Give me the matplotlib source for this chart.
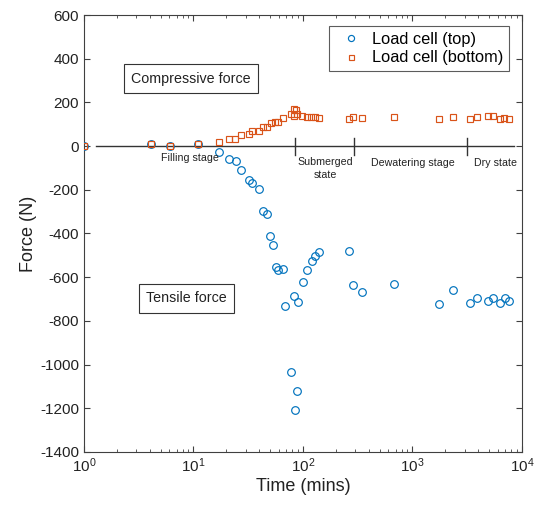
import matplotlib
matplotlib.use("Agg")
import matplotlib.pyplot as plt
import numpy as np

plt.rcParams['font.family'] = ['Liberation Sans', 'DejaVu Sans']
plt.rcParams['mathtext.fontset'] = 'custom'
plt.rcParams['mathtext.rm'] = 'Liberation Sans'
plt.rcParams['axes.unicode_minus'] = False

# load cell on top (N)
t_top = [1, 4.1, 6.1, 11.1, 17.2, 21.1, 24.3, 27.1, 32.1, 34.2, 39.9, 43.1, 47.2,
         50.3, 53.6, 56.3, 59.5, 65.6, 68.5, 78.2, 83.3, 85.1, 88.1, 90.5, 100.6,
         109.4, 120, 129.5, 141, 261, 286, 348, 680, 1760, 2360, 3370, 3910,
         4890, 5470, 6300, 6950, 7600]
f_top = [0, 8, 2, 8, -28, -60, -67, -108, -157, -169, -198, -296, -312,
         -411, -454, -553, -567, -561, -732, -1035, -688, -1206, -1121, -715, -620,
         -567, -527, -504, -486, -479, -637, -668, -633, -723, -657, -717, -694,
         -711, -694, -717, -694, -711]

# load cell at bottom (N)
t_bot = [1, 4.1, 6.1, 11.1, 17.2, 21.1, 23.8, 27.1, 32.1, 34.2, 39.9, 43.1, 47.2,
         50.7, 55.5, 59.5, 66.1, 77.2, 83.3, 83.3, 86.3, 88.7, 98.6, 108, 117.6,
         128.8, 141, 261, 288, 348, 678, 1746, 2360, 3350, 3880, 4920, 5470,
         6300, 6890, 7600]
f_bot = [0, 10, 2, 10, 19, 32, 32, 49, 57, 68, 68, 87, 87,
         106, 110, 112, 127, 147, 168, 140, 165, 147, 138, 133, 131,
         131, 129, 122, 135, 129, 135, 123, 135, 122, 135, 137, 137,
         123, 129, 123]

stage_bounds = [84.5, 292, 3150]
stage_names = ["Filling stage", "Submerged\nstate", "Dewatering stage", "Dry state"]
stage_x = [9.2, 159, 1010, 5730]
stage_y = [-54, -103, -77, -77]

blue = "#0072BD"
orange = "#D95319"
axcol = "#404040"

fig = plt.figure(figsize=(5.35, 5.07), dpi=100)
ax = fig.add_axes([0.157, 0.1085, 0.8187, 0.8619])

ax.plot([1.29, 8450], [0, 0], color="#333333", linewidth=1.0, zorder=1)
for b in stage_bounds:
    ax.plot([b, b], [-40, 35], color="#333333", linewidth=1.0, zorder=1)

ax.plot(t_top, f_top, linestyle="none", marker="o", markersize=5.5,
        markerfacecolor="none", markeredgecolor=blue, markeredgewidth=0.85,
        label="Load cell (top)", zorder=3)
ax.plot(t_bot, f_bot, linestyle="none", marker="s", markersize=4.5,
        markerfacecolor="none", markeredgecolor=orange, markeredgewidth=0.85,
        label="Load cell (bottom)", zorder=3)

for name, x, y in zip(stage_names, stage_x, stage_y):
    ax.text(x, y, name, fontsize=7.7, ha="center", va="center",
            color="#222222", linespacing=1.3)

box = dict(boxstyle="square,pad=0.5", facecolor="white", edgecolor="#333333",
           linewidth=0.8)
ax.text(9.5, 309, "Compressive force", fontsize=10.3, ha="center", va="center",
        bbox=box, color="#222222")
ax.text(8.6, -697, "Tensile force", fontsize=10.3, ha="center", va="center",
        bbox=box, color="#222222")

ax.set_xscale("log")
ax.set_xlim(1, 1e4)
ax.set_ylim(-1400, 600)
ax.set_yticks(np.arange(-1400, 601, 200))

ax.set_xlabel("Time (mins)", fontsize=13, color="#222222", labelpad=2)
ax.set_ylabel("Force (N)", fontsize=13, color="#222222", labelpad=2)

ax.tick_params(which="both", direction="in", top=True, right=True,
               colors=axcol, labelcolor="#222222", labelsize=11)
ax.tick_params(which="major", length=4)
ax.tick_params(which="minor", length=2)
for s in ax.spines.values():
    s.set_color(axcol)
    s.set_linewidth(0.8)

leg = ax.legend(loc="upper right", fontsize=11.8, handletextpad=0.3,
                borderpad=0.35, labelspacing=0.2, fancybox=False,
                markerscale=0.8, bbox_to_anchor=(0.99, 0.993))
leg.get_frame().set_edgecolor("#333333")
leg.get_frame().set_linewidth(0.8)

plt.savefig("out.png", dpi=100)
